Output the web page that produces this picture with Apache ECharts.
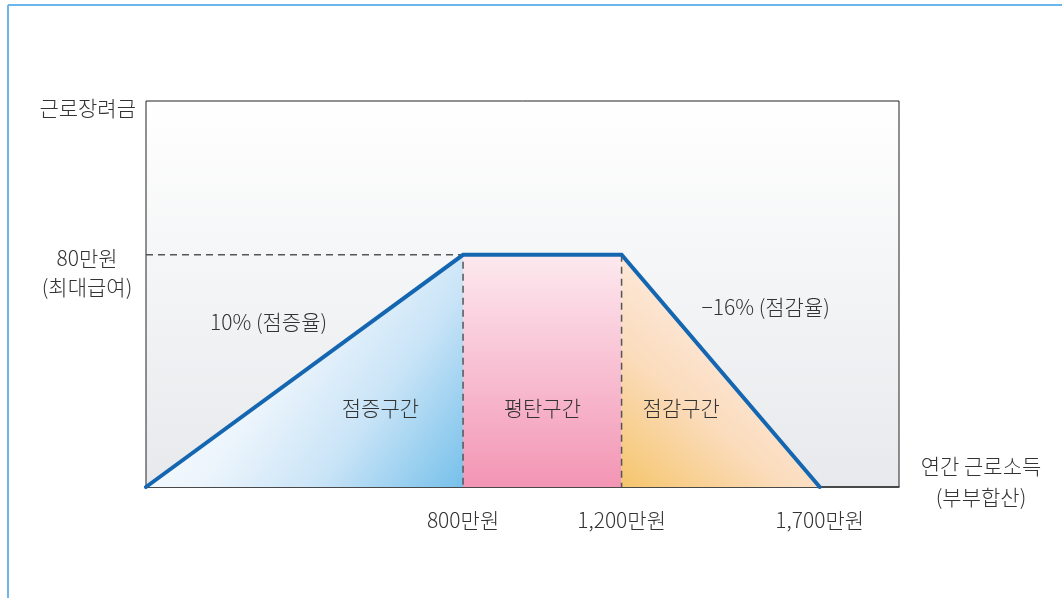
<!DOCTYPE html>
<html><head><meta charset="utf-8">
<script src="https://cdn.jsdelivr.net/npm/echarts@6/dist/echarts.min.js"></script>
<style>html,body{margin:0;padding:0;background:#fff}#c{width:1062px;height:598px}</style>
</head><body><div id="c"></div>
<script>
// ---- data ----
const incomeBreaks = [0, 800, 1200, 1700];     // 연간 근로소득 (만원)
const benefit = [0, 80, 80, 0];                // 근로장려금 (만원)
const xTickValues = [800, 1200, 1700];
const xTickLabels = ['800만원', '1,200만원', '1,700만원'];
const zoneNames = ['점증구간', '평탄구간', '점감구간'];
const rateLabels = ['10% (점증율)', '\u221216% (점감율)'];
const maxLabel = ['80만원', '(최대급여)'];
const yTitle = '근로장려금';
const xTitle = ['연간 근로소득', '(부부합산)'];

const FONT = '"Noto Sans CJK KR", "Noto Sans", sans-serif';
const TXT = '#333';
const FS = 21;

const chart = echarts.init(document.getElementById('c'));
const pts = incomeBreaks.map((x, i) => [x, benefit[i]]);
const G = echarts.graphic.LinearGradient;

const option = {
  animation: false,
  grid: {
    left: 146, right: 163, top: 101, bottom: 111,
    show: true,
    borderColor: '#222', borderWidth: 1,
    backgroundColor: new G(0, 0, 0, 1, [
      { offset: 0, color: '#ffffff' },
      { offset: 1, color: '#e7e9ec' }
    ])
  },
  xAxis: {
    type: 'value', min: 0, max: 1900,
    splitLine: { show: false },
    axisLine: { show: true, lineStyle: { color: '#333', width: 1.5 } },
    axisTick: { show: false },
    axisLabel: {
      customValues: xTickValues,
      formatter: v => xTickLabels[xTickValues.indexOf(v)],
      color: TXT, fontFamily: FONT, fontSize: FS, fontWeight: 300, margin: 23
    }
  },
  yAxis: {
    type: 'value', min: 0, max: 133,
    splitLine: { show: false },
    axisLine: { show: false },
    axisTick: { show: false },
    axisLabel: { show: false }
  },
  series: [
    {
      type: 'line', data: [pts[0], pts[1]], symbol: 'none', silent: true,
      lineStyle: { width: 0 },
      areaStyle: { opacity: 1, origin: 'start', color: new G(0, 0, 1, 1, [
        { offset: 0, color: '#ffffff' },
        { offset: 0.45, color: '#edf5fc' },
        { offset: 0.7, color: '#c9e4f7' },
        { offset: 1, color: '#76c0ea' }
      ]) }
    },
    {
      type: 'line', data: [pts[1], pts[2]], symbol: 'none', silent: true,
      lineStyle: { width: 0 },
      areaStyle: { opacity: 1, origin: 'start', color: new G(0, 0, 0, 1, [
        { offset: 0, color: '#fde9ef' },
        { offset: 1, color: '#f395b4' }
      ]) }
    },
    {
      type: 'line', data: [pts[2], pts[3]], symbol: 'none', silent: true,
      lineStyle: { width: 0 },
      areaStyle: { opacity: 1, origin: 'start', color: new G(0, 1, 1, 0, [
        { offset: 0, color: '#f5c56c' },
        { offset: 0.35, color: '#fbdcbc' },
        { offset: 0.7, color: '#fdece4' },
        { offset: 1, color: '#fff6f3' }
      ]) }
    },
    {
      type: 'line', data: [[0, benefit[1]], pts[1], [incomeBreaks[1], 0]], symbol: 'none', silent: true,
      lineStyle: { color: '#555', width: 1.5, type: [7, 5] }
    },
    {
      type: 'line', data: [pts[2], [incomeBreaks[2], 0]], symbol: 'none', silent: true,
      lineStyle: { color: '#555', width: 1.5, type: [7, 5] }
    },
    {
      type: 'line', data: pts, symbol: 'none', silent: true,
      lineStyle: { color: '#1566b1', width: 4, cap: 'round', join: 'miter' }
    }
  ]
};
chart.setOption(option);

function px(p) { return chart.convertToPixel({ gridIndex: 0 }, p); }
const base = px([0, 0]);
const top80 = px([0, benefit[1]]);
const b800 = px([incomeBreaks[1], 0]);
const b1200 = px([incomeBreaks[2], 0]);
const rampMid = px([(incomeBreaks[0] + incomeBreaks[1]) / 2, benefit[1] / 2]);
const declMid = px([(incomeBreaks[2] + incomeBreaks[3]) / 2, benefit[2] / 2]);
const zoneY = base[1] - 79;

function txt(x, y, s, align) {
  return { type: 'text', x: x, y: y, silent: true, z: 100,
    style: { text: s, fill: TXT, font: '300 ' + FS + 'px ' + FONT, align: align || 'center', verticalAlign: 'middle' } };
}

chart.setOption({
  graphic: [
    { type: 'line', z: 100, shape: { x1: 8, y1: 5, x2: 1062, y2: 5 }, style: { stroke: '#6cb6e9', lineWidth: 2 } },
    { type: 'line', z: 100, shape: { x1: 8, y1: 5, x2: 8, y2: 598 }, style: { stroke: '#6cb6e9', lineWidth: 2 } },
    txt(136, 108, yTitle, 'right'),
    txt(87, top80[1] + 3, maxLabel[0]),
    txt(87, top80[1] + 32, maxLabel[1]),
    txt(981, 466, xTitle[0]),
    txt(981, 497, xTitle[1]),
    txt(rampMid[0] - 36, rampMid[1] - 49, rateLabels[0]),
    txt(declMid[0] + 45, declMid[1] - 64, rateLabels[1]),
    txt(b800[0] - 44, zoneY, zoneNames[0], 'right'),
    txt((b800[0] + b1200[0]) / 2, zoneY, zoneNames[1]),
    txt(b1200[0] + 21, zoneY, zoneNames[2], 'left')
  ]
});
</script>
</body></html>
